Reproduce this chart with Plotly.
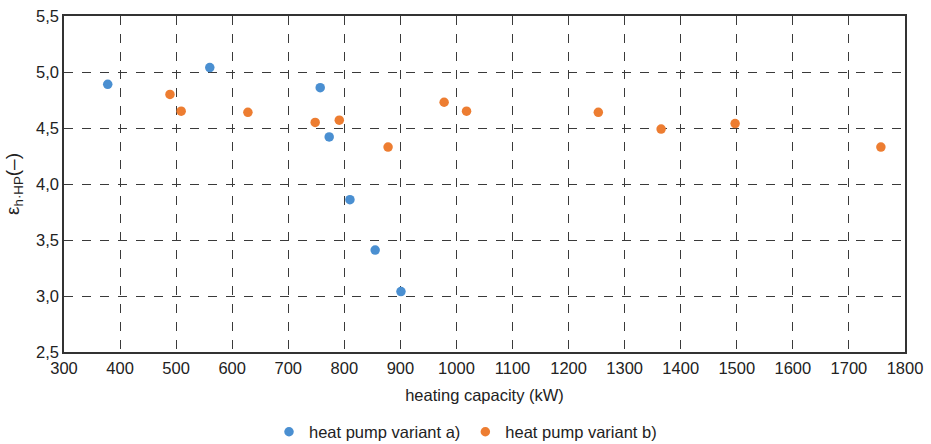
import plotly.graph_objects as go

# Heating capacity (kW) and efficiency for the two heat pump variants
cap_a = [378, 560, 757, 773, 810, 855, 901]
eps_a = [4.89, 5.04, 4.86, 4.42, 3.86, 3.41, 3.04]

cap_b = [489, 509, 628, 748, 791, 878, 978, 1018, 1253, 1365, 1497, 1757]
eps_b = [4.80, 4.65, 4.64, 4.55, 4.57, 4.33, 4.73, 4.65, 4.64, 4.49, 4.54, 4.33]

x_ticks = list(range(300, 1801, 100))
y_ticks = [2.5, 3.0, 3.5, 4.0, 4.5, 5.0, 5.5]

font_family = "Liberation Sans, Arial, sans-serif"

fig = go.Figure()
fig.add_trace(go.Scatter(
    x=cap_a, y=eps_a, mode="markers", name="heat pump variant a)",
    marker=dict(color="#4A8FD1", size=9.5),
))
fig.add_trace(go.Scatter(
    x=cap_b, y=eps_b, mode="markers", name="heat pump variant b)",
    marker=dict(color="#ED7D31", size=9.5),
))

axis_common = dict(
    showline=True, linecolor="#333333", linewidth=1.5, mirror=True,
    showgrid=True, gridcolor="#3a3a3a", griddash="dash", gridwidth=1.3,
    zeroline=False, ticks="", tickfont=dict(size=16.5, color="#222222"),
    automargin=False,
)

fig.update_layout(
    width=931, height=444,
    margin=dict(l=64, r=26, t=16, b=92),
    paper_bgcolor="white", plot_bgcolor="white",
    font=dict(family=font_family, color="#222222"),
    separators=",.",
    xaxis=dict(
        range=[300, 1800], tickvals=x_ticks,
        title=dict(text="heating capacity (kW)", font=dict(size=16.5), standoff=14),
        **axis_common,
    ),
    yaxis=dict(
        range=[2.5, 5.5], tickvals=y_ticks, tickformat=".1f",
        title=dict(text="ε<sub>h·HP</sub>(–)", font=dict(size=19), standoff=11),
        **axis_common,
    ),
    legend=dict(
        orientation="h", x=0.5, xanchor="center", xref="container",
        y=0.027, yanchor="middle", yref="container",
        font=dict(size=16.5), itemwidth=30,
    ),
    showlegend=True,
)

fig.write_html("out.html")
